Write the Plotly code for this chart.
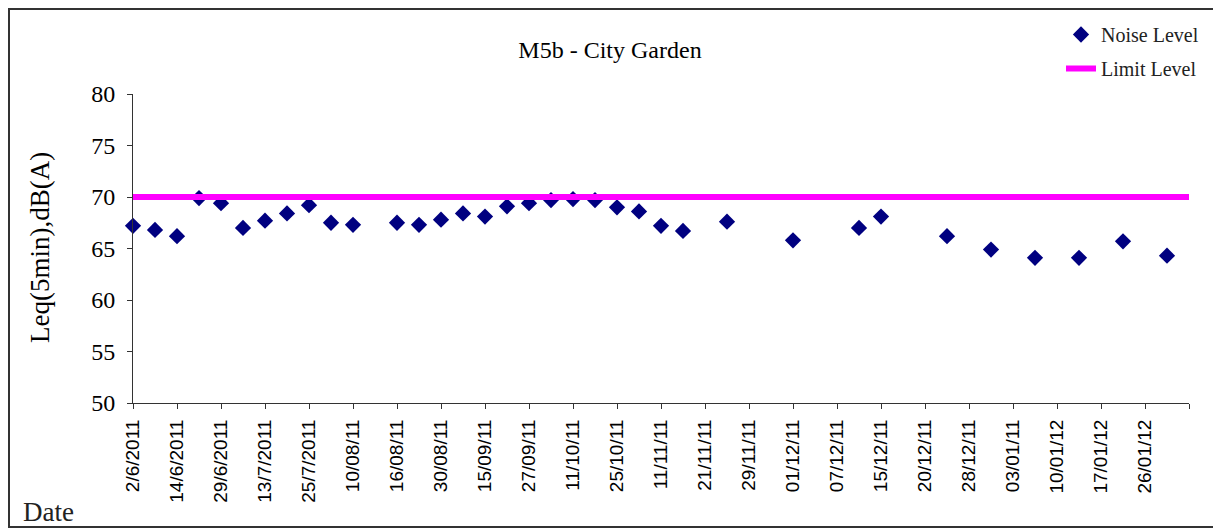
import plotly.graph_objects as go

# Date tick labels (every second category slot)
date_labels = ["2/6/2011", "14/6/2011", "29/6/2011", "13/7/2011", "25/7/2011",
               "10/08/11", "16/08/11", "30/08/11", "15/09/11", "27/09/11",
               "11/10/11", "25/10/11", "11/11/11", "21/11/11", "29/11/11",
               "01/12/11", "07/12/11", "15/12/11", "20/12/11", "28/12/11",
               "03/01/11", "10/01/12", "17/01/12", "26/01/12"]
label_slots = list(range(0, 48, 2))
n_slots = 48  # axis runs from slot 0 to slot 48

# Noise level measurements: category slot and Leq value
noise_slot = [0, 1, 2, 3, 4, 5, 6, 7, 8, 9, 10, 12, 13, 14, 15, 16, 17, 18, 19, 20,
              21, 22, 23, 24, 25, 27, 30, 33, 34, 37, 39, 41, 43, 45, 47]
noise_level = [67.2, 66.8, 66.2, 69.9, 69.4, 67.0, 67.7, 68.4, 69.2, 67.5, 67.3,
               67.5, 67.3, 67.8, 68.4, 68.1, 69.1, 69.4, 69.7, 69.8,
               69.7, 69.0, 68.6, 67.2, 66.7, 67.6, 65.8, 67.0, 68.1, 66.2,
               64.9, 64.1, 64.1, 65.7, 64.3]

limit_slot = [0, 48]
limit_level = [70, 70]

serif = "Liberation Serif, Times New Roman, serif"
sans = "Liberation Sans, Arial, sans-serif"

fig = go.Figure()
fig.add_trace(go.Scatter(
    x=noise_slot, y=noise_level, mode="markers", name="Noise Level",
    legendgroup="noise",
    marker=dict(symbol="diamond", size=12.5, color="#000080"),
    cliponaxis=False,
))
fig.add_trace(go.Scatter(
    x=limit_slot, y=limit_level, mode="lines", name="Limit Level",
    legendgroup="limit",
    line=dict(color="#FF00FF", width=6),
    cliponaxis=False,
))

OFF = 8  # page offset of the figure inside the browser window
W, H = 1221 - OFF, 529 - OFF
L = 133 - OFF
T = 94 - OFF
R = W - (1189 - OFF)
B = H - (403 - OFF)
pw, ph = W - L - R, H - T - B

def px(xs):
    """screen pixel x -> paper x"""
    return (xs - OFF - L) / pw

def py(ys):
    """screen pixel y -> paper y"""
    return 1 - (ys - OFF - T) / ph

fig.update_layout(
    width=W, height=H,
    margin=dict(l=L, r=R, t=T, b=B, autoexpand=False),
    paper_bgcolor="white", plot_bgcolor="white",
    font=dict(family=serif, color="black"),
    title=dict(text="M5b - City Garden", font=dict(family=serif, size=24, color="black"),
               xref="paper", x=px(610), xanchor="center",
               yref="container", y=1 - (50 - OFF) / H, yanchor="middle"),
    showlegend=True,
    legend=dict(x=px(1061), y=py(15), xanchor="left", yanchor="top",
                font=dict(family=serif, size=20, color="#222"),
                bgcolor="rgba(0,0,0,0)", itemwidth=30, tracegroupgap=5),
    xaxis=dict(range=[0, n_slots], tickmode="array", automargin=False,
               tickvals=label_slots + [n_slots], ticktext=date_labels + [""],
               tickangle=-90, tickfont=dict(family=sans, size=19, color="black"),
               ticks="outside", ticklen=5, tickcolor="#333", ticklabelstandoff=3,
               showline=True, linecolor="#333", linewidth=1,
               showgrid=False, zeroline=False),
    yaxis=dict(range=[50, 80], tickmode="array", automargin=False,
               tickvals=[50, 55, 60, 65, 70, 75, 80],
               tickfont=dict(family=serif, size=24, color="black"),
               ticks="outside", ticklen=5, tickcolor="#333", ticklabelstandoff=7,
               showline=True, linecolor="#333", linewidth=1,
               showgrid=False, zeroline=False),
    annotations=[
        dict(text="Leq(5min),dB(A)", xref="paper", yref="paper",
             x=px(40), y=py(248), textangle=-90, showarrow=False,
             font=dict(family=serif, size=27, color="black"),
             xanchor="center", yanchor="middle"),
        dict(text="Date", xref="paper", yref="paper",
             x=px(48), y=py(512), showarrow=False,
             font=dict(family=serif, size=27, color="#222"),
             xanchor="center", yanchor="middle"),
    ],
    shapes=[
        dict(type="rect", xref="paper", yref="paper",
             x0=px(9), x1=px(1219), y0=py(527), y1=py(9),
             line=dict(color="#333", width=2), fillcolor="rgba(0,0,0,0)", layer="below"),
    ],
)

fig.write_html("out.html")
